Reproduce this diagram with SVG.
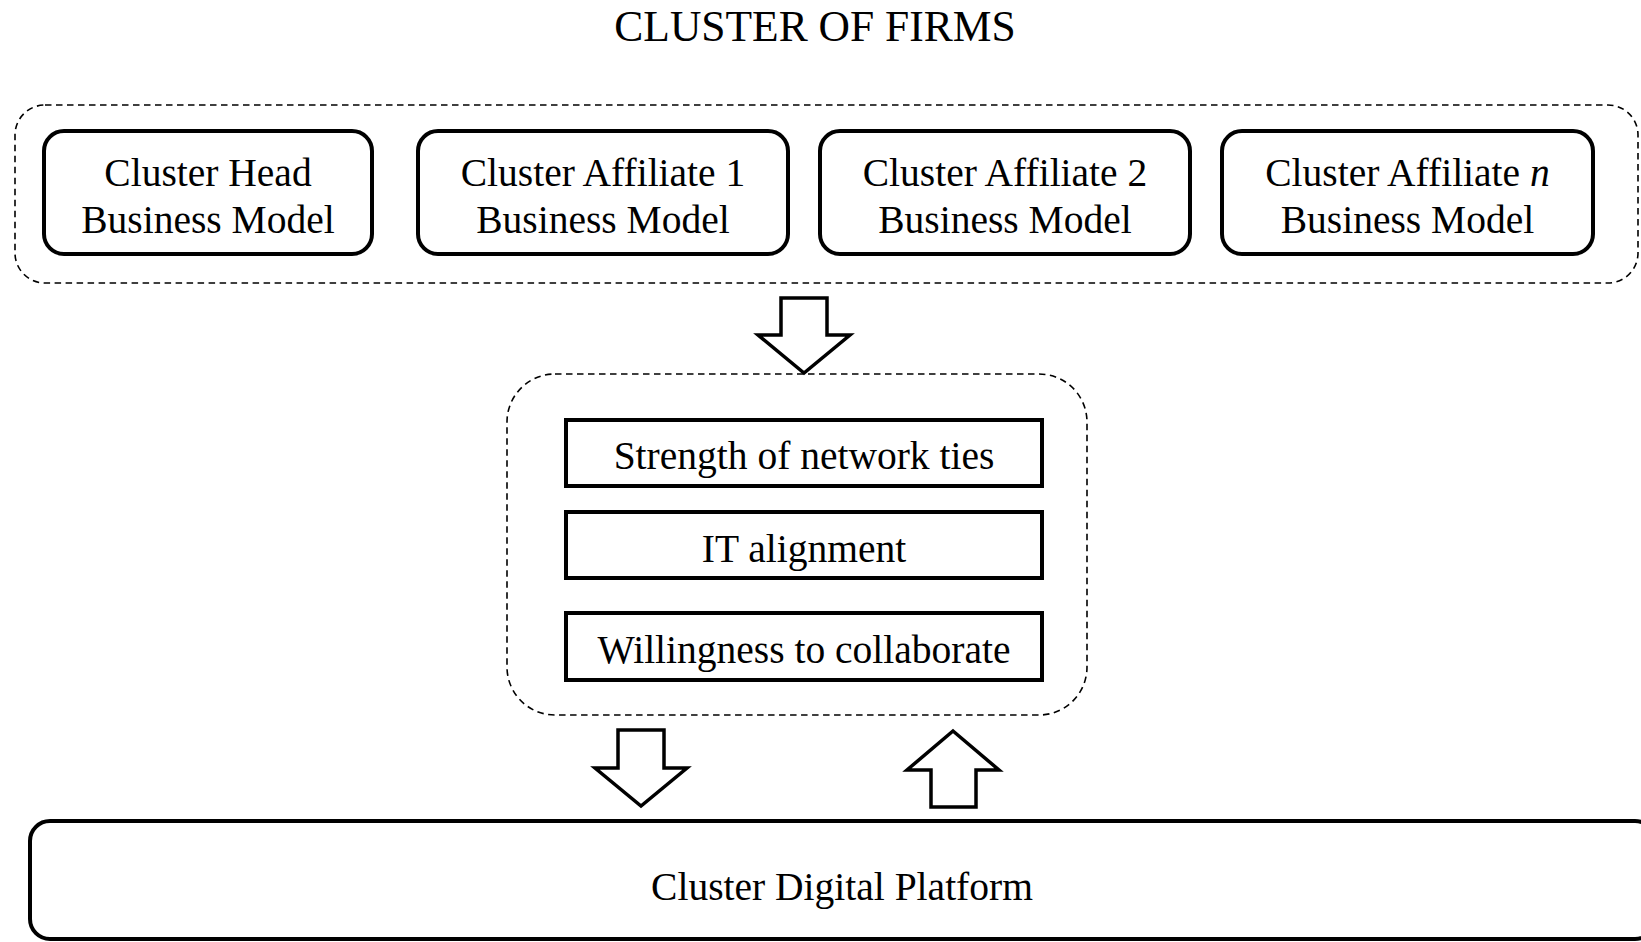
<svg xmlns="http://www.w3.org/2000/svg" width="1641" height="942" viewBox="0 0 1641 942">
<style>
.t{font-family:"Liberation Serif","Times New Roman",serif;font-size:39.5px;fill:#000;text-anchor:middle}
.title{font-size:43.5px}
.dash{fill:none;stroke:#000;stroke-width:1.6;stroke-dasharray:6.5 4.5}
.bm{fill:#fff;stroke:#000;stroke-width:4}
.fac{fill:#fff;stroke:#000;stroke-width:4}
.arr{fill:#fff;stroke:#000;stroke-width:3.5;stroke-linejoin:miter}
</style>
<rect width="1641" height="942" fill="#fff"/>
<text class="t title" x="815" y="41">CLUSTER OF FIRMS</text>
<g id="cluster-group">
<rect class="dash" x="15" y="105" width="1623" height="178" rx="30" ry="30"/>
</g>
<g id="head">
<rect class="bm" x="44" y="131" width="328" height="123" rx="20" ry="20"/>
<text class="t" x="208" y="185.5">Cluster Head</text>
<text class="t" x="208" y="233">Business Model</text>
</g>
<g id="affiliate1">
<rect class="bm" x="418" y="131" width="370" height="123" rx="20" ry="20"/>
<text class="t" x="603" y="185.5">Cluster Affiliate 1</text>
<text class="t" x="603" y="233">Business Model</text>
</g>
<g id="affiliate2">
<rect class="bm" x="820" y="131" width="370" height="123" rx="20" ry="20"/>
<text class="t" x="1005" y="185.5">Cluster Affiliate 2</text>
<text class="t" x="1005" y="233">Business Model</text>
</g>
<g id="affiliaten">
<rect class="bm" x="1222" y="131" width="371" height="123" rx="20" ry="20"/>
<text class="t" x="1407.5" y="185.5">Cluster Affiliate <tspan font-style="italic">n</tspan></text>
<text class="t" x="1407.5" y="233">Business Model</text>
</g>
<g id="factors-group">
<rect class="dash" x="507" y="374" width="580" height="341" rx="48" ry="48"/>
</g>
<g id="strength">
<rect class="fac" x="566" y="420" width="476" height="66"/>
<text class="t" x="804" y="469">Strength of network ties</text>
</g>
<g id="it">
<rect class="fac" x="566" y="512" width="476" height="66"/>
<text class="t" x="804" y="562">IT alignment</text>
</g>
<g id="willingness">
<rect class="fac" x="566" y="613" width="476" height="67"/>
<text class="t" x="804" y="663">Willingness to collaborate</text>
</g>
<g id="platform">
<rect class="bm" x="30" y="821" width="1625" height="118" rx="20" ry="20"/>
<text class="t" x="842" y="900">Cluster Digital Platform</text>
</g>
<g id="connectors">
<polygon class="arr" points="781,298 827,298 827,335 850,335 804,373 758,335 781,335"/>
<polygon class="arr" points="618,730 664,730 664,768 687,768 641,806 595,768 618,768"/>
<polygon class="arr" points="953,731 999,770 976,770 976,807 931,807 931,770 907,770"/>
</g>
</svg>
